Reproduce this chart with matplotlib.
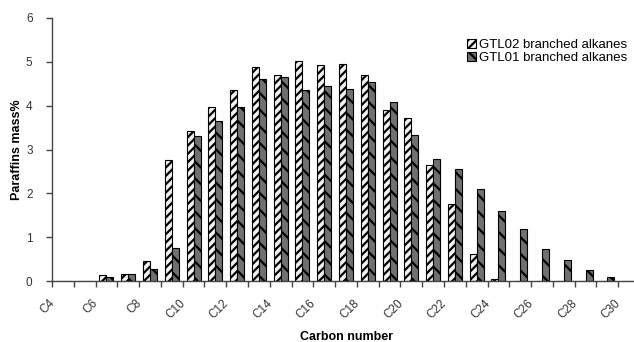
import numpy as np
import matplotlib
matplotlib.use("Agg")
import matplotlib.pyplot as plt
import matplotlib.transforms as mtransforms

plt.rcParams['font.family'] = ['Liberation Sans', 'DejaVu Sans']
plt.rcParams['hatch.linewidth'] = 1.6

# carbon numbers C4 .. C30
categories = [f"C{n}" for n in range(4, 31)]
gtl02 = [0, 0, 0.13, 0.16, 0.46, 2.76, 3.42, 3.97, 4.35, 4.89, 4.70, 5.01, 4.92, 4.96,
         4.70, 3.89, 3.71, 2.65, 1.76, 0.62, 0.05, 0, 0, 0, 0, 0, 0]
gtl01 = [0, 0, 0.08, 0.16, 0.27, 0.75, 3.31, 3.66, 3.97, 4.60, 4.66, 4.35, 4.45, 4.37,
         4.55, 4.09, 3.33, 2.79, 2.56, 2.09, 1.60, 1.18, 0.74, 0.48, 0.25, 0.08, 0]
series_names = ["GTL02 branched alkanes", "GTL01 branched alkanes"]

x = np.arange(len(categories))
w = 0.32

fig = plt.figure(figsize=(6.34, 3.42), dpi=100)
ax = fig.add_axes([52/634, 61/342, 588/634, 263/342])

ax.bar(x - w/2, gtl02, w, color='#f2f2f2', edgecolor='black', linewidth=0.8,
       hatch='////', label=series_names[0])
ax.bar(x + w/2, gtl01, w, color='#707070', edgecolor='black', linewidth=0.8,
       hatch='\\\\', label=series_names[1])

ax.set_xlim(-0.5, len(categories) - 0.5)
ax.set_ylim(0, 6)
ax.set_yticks(range(7))

ax.set_xticks(x[::2])
ax.set_xticklabels(categories[::2], rotation=45, ha='right', va='top')
ax.set_xticks(np.arange(-0.5, len(categories)), minor=True)
ax.tick_params(axis='x', which='major', length=0, pad=11.5, labelsize=8.5, colors='#333333')
ax.tick_params(axis='x', which='minor', length=4, width=1, color='#444444', direction='out')
ax.tick_params(axis='y', length=4, width=1, color='#444444', pad=10, labelsize=8.5,
               labelcolor='#333333')
shift = mtransforms.ScaledTranslation(-6/100, 0, fig.dpi_scale_trans)
for lab in ax.get_xticklabels():
    lab.set_transform(lab.get_transform() + shift)

for s in ['top', 'right']:
    ax.spines[s].set_visible(False)
for s in ['left', 'bottom']:
    ax.spines[s].set_color('#444444')
    ax.spines[s].set_linewidth(1)

ax.set_ylabel('Paraffins mass%', fontsize=9, fontweight='bold')
ax.yaxis.set_label_coords(-0.049, 0.5)
ax.set_xlabel('Carbon number', fontsize=9, fontweight='bold')
ax.xaxis.set_label_coords(0.5, -0.19)

ax.legend(loc='upper left', bbox_to_anchor=(467/634, 1 - 39/342),
          bbox_transform=fig.transFigure, frameon=False, fontsize=9.5,
          handlelength=0.65, handleheight=0.65, handletextpad=0.25,
          labelspacing=0.05, borderpad=0, borderaxespad=0)

fig.savefig('out.png', dpi=100)
